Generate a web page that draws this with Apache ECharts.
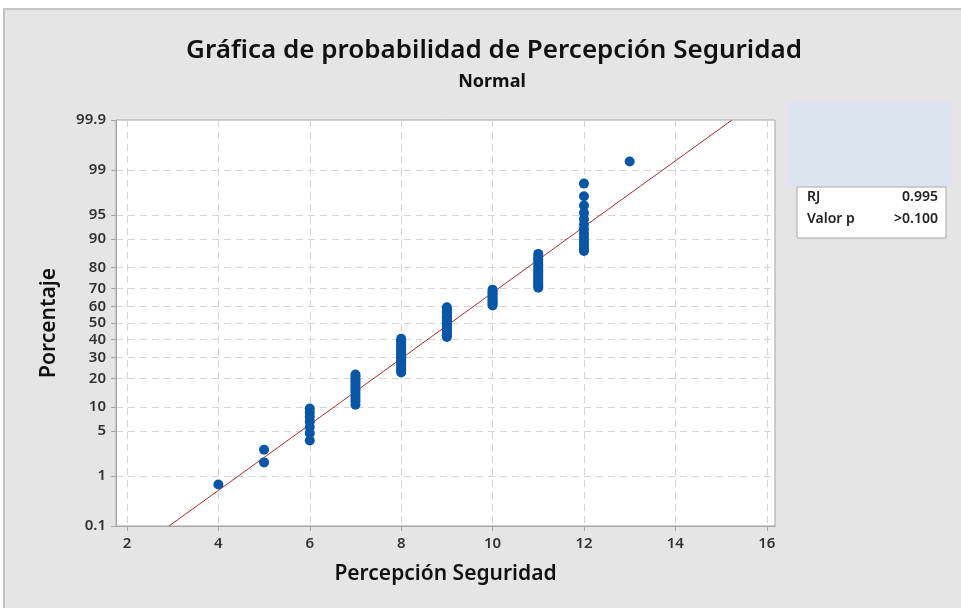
<!DOCTYPE html>
<html>
<head>
<meta charset="utf-8">
<script src="https://cdn.jsdelivr.net/npm/echarts@6/dist/echarts.min.js"></script>
<style>
  html, body { margin: 0; padding: 0; background: #fff; }
  #chart { width: 961px; height: 608px; }
</style>
</head>
<body>
<div id="chart"></div>
<script>
// observed values of "Percepción Seguridad" and how many times each appears
const valores = [4, 5, 6, 7, 8, 9, 10, 11, 12, 13]
const frecuencias = [1, 2, 7, 12, 19, 19, 10, 16, 13, 1]
// axis tick labels
const ticksY = [0.1, 1, 5, 10, 20, 30, 40, 50, 60, 70, 80, 90, 95, 99, 99.9]
const ticksX = [2, 4, 6, 8, 10, 12, 14, 16]
const stats = [['RJ', '0.995'], ['Valor p', '>0.100']]

// inverse normal cdf (Acklam)
function invNorm (p) {
  const a = [-39.69683028665376, 220.9460984245205, -275.9285104469687, 138.3577518672690, -30.66479806614716, 2.506628277459239]
  const b = [-54.47609879822406, 161.5858368580409, -155.6989798598866, 66.80131188771972, -13.28068155288572]
  const c = [-0.007784894002430293, -0.3223964580411365, -2.400758277161838, -2.549732539343734, 4.374664141464968, 2.938163982698783]
  const d = [0.007784695709041462, 0.3224671290700398, 2.445134137142996, 3.754408661907416]
  const pl = 0.02425
  let q, r
  if (p < pl) {
    q = Math.sqrt(-2 * Math.log(p))
    return (((((c[0] * q + c[1]) * q + c[2]) * q + c[3]) * q + c[4]) * q + c[5]) / ((((d[0] * q + d[1]) * q + d[2]) * q + d[3]) * q + 1)
  }
  if (p > 1 - pl) {
    q = Math.sqrt(-2 * Math.log(1 - p))
    return -(((((c[0] * q + c[1]) * q + c[2]) * q + c[3]) * q + c[4]) * q + c[5]) / ((((d[0] * q + d[1]) * q + d[2]) * q + d[3]) * q + 1)
  }
  q = p - 0.5
  r = q * q
  return (((((a[0] * r + a[1]) * r + a[2]) * r + a[3]) * r + a[4]) * r + a[5]) * q / (((((b[0] * r + b[1]) * r + b[2]) * r + b[3]) * r + b[4]) * r + 1)
}

const n = frecuencias.reduce((s, v) => s + v, 0)
// median ranks (i - 0.3) / (n + 0.4)
const puntos = []
let rango = 0
valores.forEach((v, k) => {
  for (let j = 0; j < frecuencias[k]; j++) {
    rango++
    puntos.push([v, invNorm((rango - 0.3) / (n + 0.4))])
  }
})
let media = 0
valores.forEach((v, k) => { media += v * frecuencias[k] })
media /= n
let ss = 0
valores.forEach((v, k) => { ss += frecuencias[k] * (v - media) * (v - media) })
const sd = Math.sqrt(ss / (n - 1))

const zTicks = ticksY.map(p => invNorm(p / 100))
const zMin = zTicks[0]
const zMax = zTicks[zTicks.length - 1]
const ajuste = [[media + sd * zMin, zMin], [media + sd * zMax, zMax]]

const font = 'Noto Sans'
const chart = echarts.init(document.getElementById('chart'))
const option = {
  animation: false,
  backgroundColor: '#fff',
  textStyle: { fontFamily: font },
  graphic: [
    { type: 'rect', z: -10, shape: { x: 4, y: 9, width: 970, height: 620 },
      style: { fill: '#e5e5e5', stroke: '#c4c4c4', lineWidth: 2 } },
    { type: 'rect', shape: { x: 788, y: 101, width: 164, height: 86 },
      style: { fill: '#dce4f0', stroke: '#ecdfee', lineWidth: 2 } },
    { type: 'rect', shape: { x: 797, y: 187, width: 149, height: 51 },
      style: { fill: '#fff', stroke: '#a8a8a8', lineWidth: 1 } },
    { type: 'text', left: 807, top: 190, style: { text: stats[0][0], font: '600 14px ' + font, fill: '#222' } },
    { type: 'text', right: 23, top: 190, style: { text: stats[0][1], font: '600 14px ' + font, fill: '#222', align: 'right' } },
    { type: 'text', left: 807, top: 212, style: { text: stats[1][0], font: '600 14px ' + font, fill: '#222' } },
    { type: 'text', right: 23, top: 212, style: { text: stats[1][1], font: '600 14px ' + font, fill: '#222', align: 'right' } }
  ],
  title: [
    {
      text: 'Gráfica de probabilidad de Percepción Seguridad',
      left: 489, top: 33, textAlign: 'center',
      textStyle: { fontSize: 26, fontWeight: 600, color: '#111', fontFamily: font }
    },
    {
      text: 'Normal',
      left: 487, top: 68, textAlign: 'center',
      textStyle: { fontSize: 18, fontWeight: 'bold', color: '#111', fontFamily: font }
    }
  ],
  grid: { left: 116, top: 120, width: 659, height: 406, show: true, backgroundColor: '#fff', borderColor: '#a6a6a6', borderWidth: 1 },
  xAxis: {
    type: 'value', min: 1.76, max: 16.18,
    name: 'Percepción Seguridad', nameLocation: 'middle', nameGap: 38,
    nameTextStyle: { fontSize: 21, fontWeight: 600, color: '#111', fontFamily: font },
    axisLine: { show: true, onZero: false, lineStyle: { color: '#a6a6a6' } },
    axisTick: { show: true, length: 5, customValues: ticksX, lineStyle: { color: '#a6a6a6' } },
    axisLabel: { customValues: ticksX, fontSize: 15, fontWeight: 600, color: '#333', margin: 10, fontFamily: font },
    splitLine: { show: true, lineStyle: { color: '#d4d4d4', type: [7, 5], width: 1 } }
  },
  yAxis: {
    type: 'value', min: zMin, max: zMax,
    name: 'Porcentaje', nameLocation: 'middle', nameGap: 56,
    nameTextStyle: { fontSize: 21, fontWeight: 600, color: '#111', fontFamily: font },
    axisLine: { show: true, onZero: false, lineStyle: { color: '#a6a6a6' } },
    axisTick: { show: true, length: 5, customValues: zTicks, lineStyle: { color: '#a6a6a6' } },
    axisLabel: {
      customValues: zTicks, fontSize: 15, fontWeight: 600, color: '#333', margin: 10, fontFamily: font,
      formatter: val => {
        let best = 0
        zTicks.forEach((z, i) => { if (Math.abs(z - val) < Math.abs(zTicks[best] - val)) best = i })
        return String(ticksY[best])
      }
    },
    splitLine: { show: true, lineStyle: { color: '#d4d4d4', type: [7, 5], width: 1 } }
  },
  series: [
    {
      type: 'line', data: ajuste, symbol: 'none', silent: true,
      lineStyle: { color: '#b22a2a', width: 1 }, z: 2
    },
    {
      type: 'scatter', data: puntos, symbolSize: 10,
      itemStyle: { color: '#0a56a6', opacity: 1 }, z: 3
    }
  ]
}
chart.setOption(option)
</script>
</body>
</html>
